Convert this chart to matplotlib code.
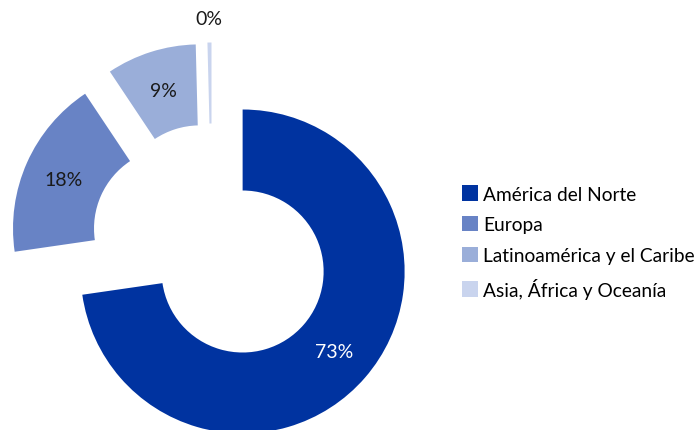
import numpy as np
import matplotlib
matplotlib.use("Agg")
import matplotlib.pyplot as plt
from matplotlib.patches import Patch

plt.rcParams['font.family'] = ['Lato', 'DejaVu Sans']

regiones = ['América del Norte', 'Europa', 'Latinoamérica y el Caribe', 'Asia, África y Oceanía']
porcentajes = [73, 18, 9, 0.4]
colores = ['#0033A0', '#6883C5', '#9AAED9', '#C9D4EE']
color_etiqueta = ['white', '#1a1a1a', '#1a1a1a', '#1a1a1a']

fig = plt.figure(figsize=(6.99, 4.31), dpi=100)
ax = fig.add_axes([0, 0, 1, 1])

wedges, _ = ax.pie(porcentajes, colors=colores, startangle=90, counterclock=False,
                   radius=1.0, explode=[0.25] * 4,
                   wedgeprops=dict(width=0.5, linewidth=0))

# etiquetas de porcentaje en el centro del anillo (la de Asia va por fuera)
for i, w in enumerate(wedges):
    ang = np.deg2rad((w.theta1 + w.theta2) / 2)
    r = 0.75 if i < 3 else 1.15
    x = w.center[0] + r * np.cos(ang)
    y = w.center[1] + r * np.sin(ang)
    ax.text(x, y, f"{porcentajes[i]:.0f}%", ha='center', va='center',
            fontsize=14, color=color_etiqueta[i])

# escala: 1 unidad = 162 px, centro en (212, 246) px
ax.set_xlim(-212 / 162, (699 - 212) / 162)
ax.set_ylim(-(431 - 246) / 162, 246 / 162)
ax.set_aspect('auto')
ax.axis('off')

handles = [Patch(facecolor=c, edgecolor='none') for c in colores]
fig.legend(handles, regiones, loc='center left', bbox_to_anchor=(462 / 699, 1 - 243 / 431),
           frameon=False, fontsize=13.8, handlelength=0.85, handleheight=0.85,
           handletextpad=0.25, labelspacing=0.7, borderaxespad=0, borderpad=0)

fig.savefig('out.png', dpi=100)
